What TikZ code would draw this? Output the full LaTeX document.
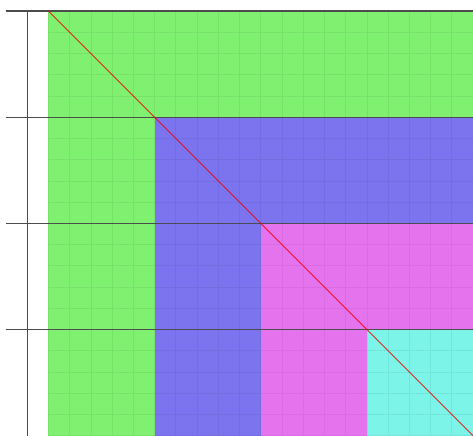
\documentclass[tikz,border=0pt]{standalone}
\usepackage{xcolor}
\usepackage{tikz}
\definecolor{lvlgreen}{HTML}{80F070}
\definecolor{lvlblue}{HTML}{7B74EE}
\definecolor{lvlpink}{HTML}{E673EE}
\definecolor{lvlcyan}{HTML}{7CF4E8}

\begin{document}
\begin{tikzpicture}[
  cell/.style={draw=black,draw opacity=0.06,line width=0.8pt},
  level/.style={draw=black!70,line width=1.6pt},
  diag/.style={draw=red!95!black,line width=1pt}
]
\useasboundingbox (-2.28,0) rectangle (20,20.52);
% nested blocks
\foreach \k/\col in {0/lvlgreen,1/lvlblue,2/lvlpink,3/lvlcyan}
  \fill[\col] (5*\k,0) rectangle (20,20-5*\k);
\draw[cell] (0,0) grid (20,20);
% level lines and axis
\foreach \k in {0,...,3}
  \draw[level] (-2,20-5*\k) -- (20,20-5*\k);
\draw[level] (-1,0) -- (-1,20);
\draw[diag] (0,20) -- (20,0);
\end{tikzpicture}
\end{document}
